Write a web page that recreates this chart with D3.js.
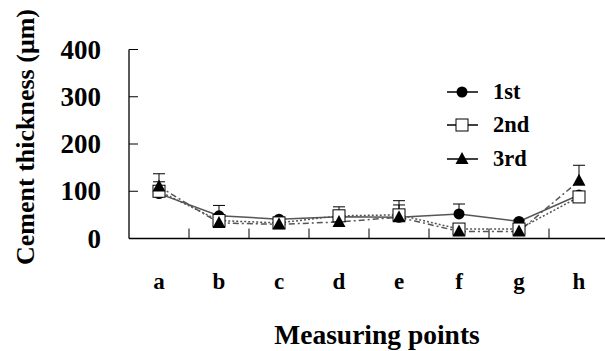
<!DOCTYPE html>
<html>
<head>
<meta charset="utf-8">
<script src="https://cdn.jsdelivr.net/npm/d3@7"></script>
<style>
  body { margin: 0; background: #fff; }
  text { font-family: "Liberation Serif", "DejaVu Serif", serif; font-weight: bold; fill: #000; }
</style>
</head>
<body>
<script>
const width = 605;
const height = 351;

// data
const points = ["a", "b", "c", "d", "e", "f", "g", "h"];
const yTicks = [0, 100, 200, 300, 400];
const first  = [95, 48, 41, 46, 45, 52, 36, 92];
const second = [100, 38, 33, 48, 50, 20, 20, 88];
const third  = [110, 33, 30, 35, 45, 15, 15, 122];
// upward error bars (sd)
const firstSd  = [5, 22, 4, 4, 5, 21, 3, 6];
const secondSd = [20, 4, 4, 19, 30, 4, 4, 8];
const thirdSd  = [27, 4, 4, 4, 26, 4, 4, 33];

const series = [
  { name: "1st", values: first,  sd: firstSd,  marker: "circle",   dash: null },
  { name: "2nd", values: second, sd: secondSd, marker: "square",   dash: "2,2" },
  { name: "3rd", values: third,  sd: thirdSd,  marker: "triangle", dash: "6,3,2,3" }
];

const svg = d3.select("body").append("svg").attr("width", width).attr("height", height);

const x = d3.scaleBand().domain(points).range([129, 609]);
const y = d3.scaleLinear().domain([0, 400]).range([238.5, 49.5]);

// axes
svg.append("line").attr("x1", 129).attr("x2", 129).attr("y1", y(400)).attr("y2", y(0))
  .attr("stroke", "#000").attr("stroke-width", 1.3);
svg.append("line").attr("x1", 129).attr("x2", 609).attr("y1", y(0)).attr("y2", y(0))
  .attr("stroke", "#000").attr("stroke-width", 1.3);

svg.selectAll(".ytick").data(yTicks).enter().append("line")
  .attr("x1", 129).attr("x2", 138)
  .attr("y1", d => y(d)).attr("y2", d => y(d))
  .attr("stroke", "#000");

svg.selectAll(".ylab").data(yTicks).enter().append("text")
  .attr("x", 101).attr("y", d => y(d) + 9)
  .attr("text-anchor", "end").attr("font-size", 27)
  .text(d => d);

svg.selectAll(".xtick").data(points.slice(1)).enter().append("line")
  .attr("x1", d => x(d)).attr("x2", d => x(d))
  .attr("y1", y(0)).attr("y2", y(0) - 10)
  .attr("stroke", "#000");

svg.selectAll(".xlab").data(points).enter().append("text")
  .attr("x", d => x(d) + x.bandwidth() / 2).attr("y", 289)
  .attr("text-anchor", "middle").attr("font-size", 23)
  .text(d => d);

svg.append("text")
  .attr("x", 377).attr("y", 344)
  .attr("text-anchor", "middle").attr("font-size", 27.5)
  .text("Measuring points");

svg.append("text")
  .attr("transform", "translate(34,137) rotate(-90)")
  .attr("text-anchor", "middle").attr("font-size", 26)
  .text("Cement thickness (μm)");

const cx = d => x(d) + x.bandwidth() / 2;

function drawMarker(g, type, px, py) {
  if (type === "circle") {
    g.append("circle").attr("cx", px).attr("cy", py).attr("r", 5.5).attr("fill", "#000");
  } else if (type === "square") {
    g.append("rect").attr("x", px - 6).attr("y", py - 6).attr("width", 12).attr("height", 12)
      .attr("fill", "#fff").attr("stroke", "#000").attr("stroke-width", 1);
  } else {
    g.append("path").attr("d", `M${px},${py - 7}L${px + 6.5},${py + 5}L${px - 6.5},${py + 5}Z`)
      .attr("fill", "#000");
  }
}

const line = d3.line().x((d, i) => cx(points[i])).y(d => y(d));

// error bars
series.forEach(s => {
  const g = svg.append("g");
  s.values.forEach((v, i) => {
    const px = cx(points[i]);
    g.append("line").attr("x1", px).attr("x2", px).attr("y1", y(v)).attr("y2", y(v + s.sd[i]))
      .attr("stroke", "#000");
    g.append("line").attr("x1", px - 6).attr("x2", px + 6)
      .attr("y1", y(v + s.sd[i])).attr("y2", y(v + s.sd[i]))
      .attr("stroke", "#000");
  });
});

// lines
series.forEach(s => {
  svg.append("path").datum(s.values).attr("d", line)
    .attr("fill", "none").attr("stroke", "#555").attr("stroke-width", 1.5)
    .attr("stroke-dasharray", s.dash);
});

// markers
series.forEach(s => {
  const g = svg.append("g");
  s.values.forEach((v, i) => drawMarker(g, s.marker, cx(points[i]), y(v)));
});

// legend
const legY = [92, 125, 159];
series.forEach((s, i) => {
  const g = svg.append("g");
  g.append("line").attr("x1", 447).attr("x2", 478).attr("y1", legY[i]).attr("y2", legY[i])
    .attr("stroke", "#000").attr("stroke-width", 1.5);
  drawMarker(g, s.marker, 462, legY[i]);
  g.append("text").attr("x", 493).attr("y", legY[i] + 7).attr("font-size", 22.5).text(s.name);
});
</script>
</body>
</html>
